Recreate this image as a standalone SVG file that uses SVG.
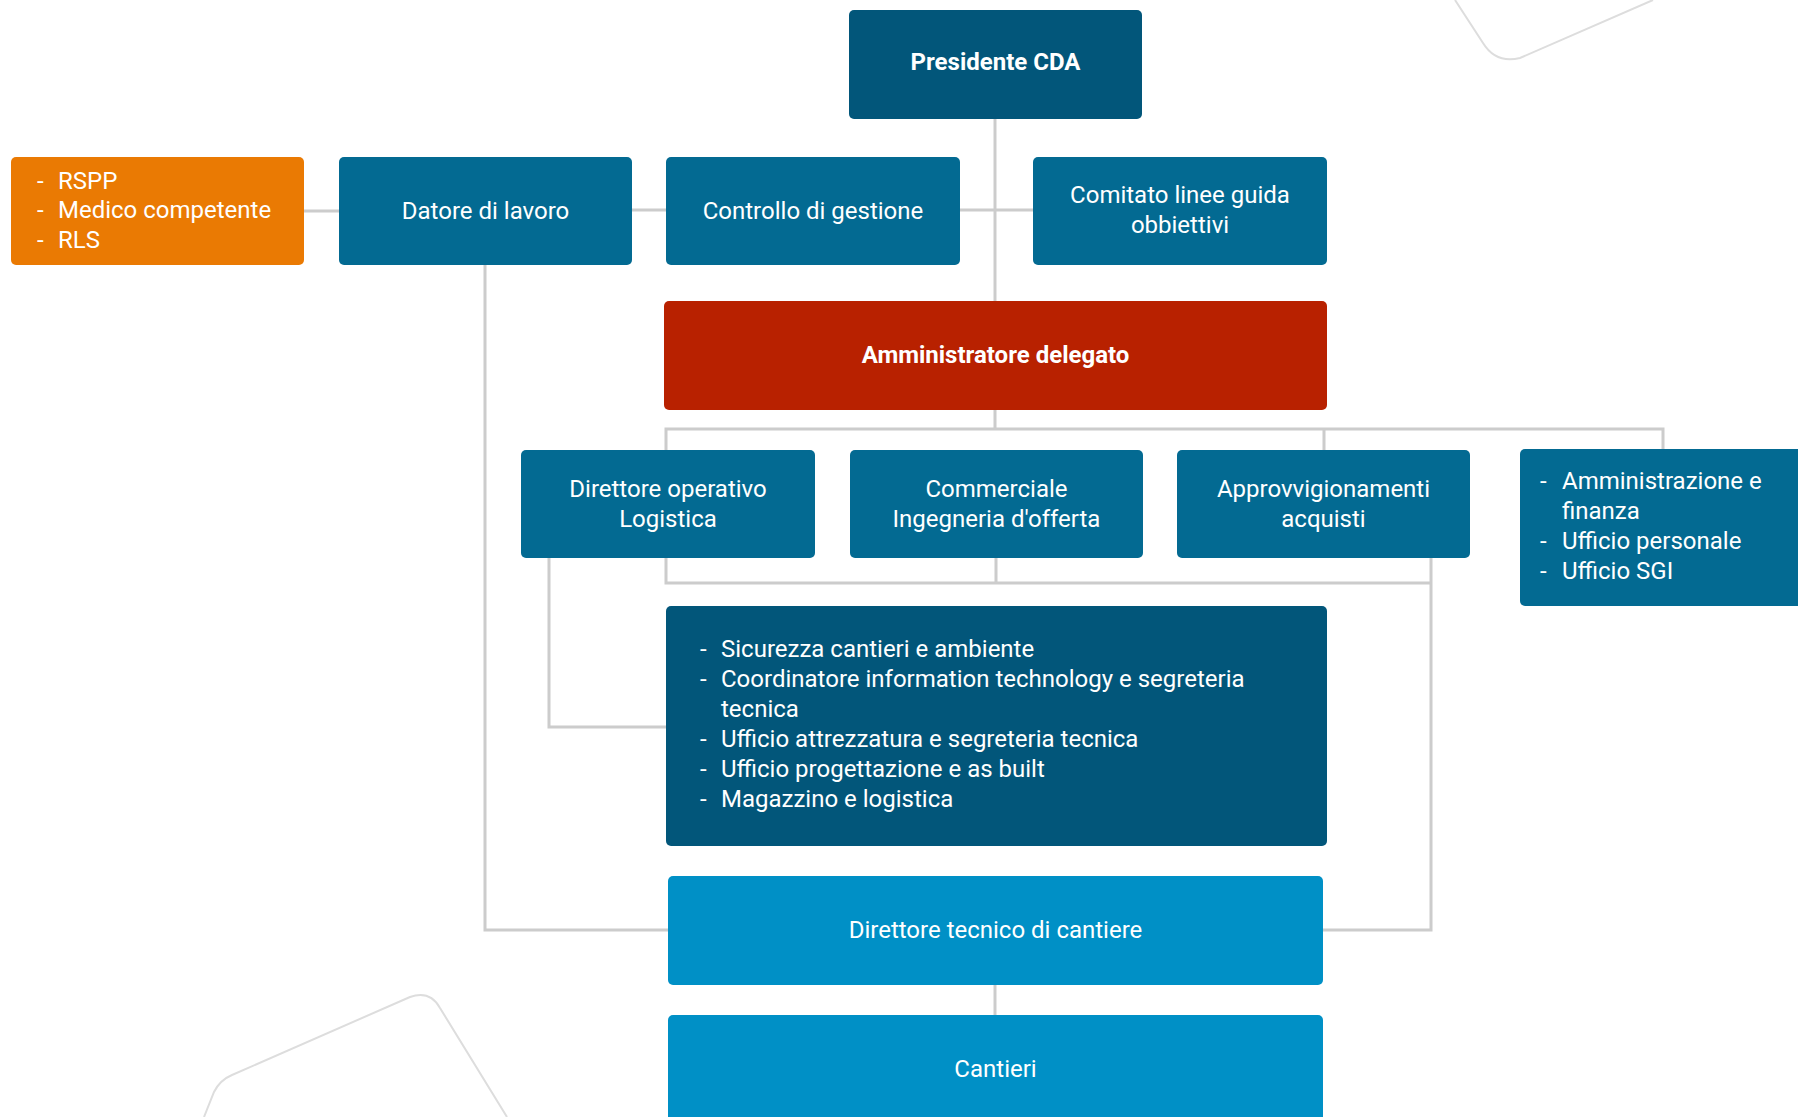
<svg xmlns="http://www.w3.org/2000/svg" width="1798" height="1117" viewBox="0 0 1798 1117">
<style>
text{font-family:Roboto,"Liberation Sans",sans-serif;font-size:24px;fill:#fff}
.c{text-anchor:middle}
.b{font-weight:bold}
.conn{stroke:#cccccc;stroke-width:3;fill:none}
.deco{stroke:#dddddd;stroke-width:2;fill:none}
.mid{fill:#036a92}
.dark{fill:#02567a}
.light{fill:#0090c6}
</style>
<rect width="1798" height="1117" fill="#fff"/>
<g id="decoration">
<path class="deco" d="M1455,0 L1483,43 Q1496,64 1520,58 L1653,0"/>
<path class="deco" d="M204,1117 L214,1092 Q220,1080 232,1075 L410,997 Q430,990 440,1008 L507,1117"/>
</g>
<g id="connectors">
<path class="conn" d="M304,211 H339 M632,210 H666 M960,210 H1033"/>
<path class="conn" d="M995,119 V301"/>
<path class="conn" d="M485,265 V930 H668"/>
<path class="conn" d="M995,410 V429 M666,450 V429 H1663 V449 M1324,429 V450"/>
<path class="conn" d="M666,558 V583 H1431 M996,558 V583 M1431,558 V930 H1323"/>
<path class="conn" d="M549,558 V727 H666"/>
<path class="conn" d="M995,985 V1015"/>
</g>
<g id="presidente">
<rect class="dark" x="849" y="10" width="293" height="109" rx="5"/>
<text class="c b" x="995.5" y="70">Presidente CDA</text>
</g>
<g id="sicurezza-lavoro">
<rect x="11" y="157" width="293" height="108" rx="5" fill="#ea7a03"/>
<text x="37" y="189">-</text><text x="58" y="189">RSPP</text>
<text x="37" y="218">-</text><text x="58" y="218">Medico competente</text>
<text x="37" y="248">-</text><text x="58" y="248">RLS</text>
</g>
<g id="datore">
<rect class="mid" x="339" y="157" width="293" height="108" rx="5"/>
<text class="c" x="485.5" y="219">Datore di lavoro</text>
</g>
<g id="controllo">
<rect class="mid" x="666" y="157" width="294" height="108" rx="5"/>
<text class="c" x="813" y="219">Controllo di gestione</text>
</g>
<g id="comitato">
<rect class="mid" x="1033" y="157" width="294" height="108" rx="5"/>
<text class="c" x="1180" y="203">Comitato linee guida</text>
<text class="c" x="1180" y="233">obbiettivi</text>
</g>
<g id="amministratore">
<rect x="664" y="301" width="663" height="109" rx="5" fill="#b82100"/>
<text class="c b" x="995.5" y="363">Amministratore delegato</text>
</g>
<g id="direttore-operativo">
<rect class="mid" x="521" y="450" width="294" height="108" rx="5"/>
<text class="c" x="668" y="497">Direttore operativo</text>
<text class="c" x="668" y="527">Logistica</text>
</g>
<g id="commerciale">
<rect class="mid" x="850" y="450" width="293" height="108" rx="5"/>
<text class="c" x="996.5" y="497">Commerciale</text>
<text class="c" x="996.5" y="527">Ingegneria d'offerta</text>
</g>
<g id="approvvigionamenti">
<rect class="mid" x="1177" y="450" width="293" height="108" rx="5"/>
<text class="c" x="1323.5" y="497">Approvvigionamenti</text>
<text class="c" x="1323.5" y="527">acquisti</text>
</g>
<g id="amministrazione">
<rect class="mid" x="1520" y="449" width="290" height="157" rx="5"/>
<text x="1540" y="489">-</text><text x="1562" y="489">Amministrazione e</text>
<text x="1562" y="519">finanza</text>
<text x="1540" y="549">-</text><text x="1562" y="549">Ufficio personale</text>
<text x="1540" y="579">-</text><text x="1562" y="579">Ufficio SGI</text>
</g>
<g id="uffici-tecnici">
<rect class="dark" x="666" y="606" width="661" height="240" rx="5"/>
<text x="700" y="657">-</text><text x="721" y="657">Sicurezza cantieri e ambiente</text>
<text x="700" y="687">-</text><text x="721" y="687">Coordinatore information technology e segreteria</text>
<text x="721" y="717">tecnica</text>
<text x="700" y="747">-</text><text x="721" y="747">Ufficio attrezzatura e segreteria tecnica</text>
<text x="700" y="777">-</text><text x="721" y="777">Ufficio progettazione e as built</text>
<text x="700" y="807">-</text><text x="721" y="807">Magazzino e logistica</text>
</g>
<g id="direttore-tecnico">
<rect class="light" x="668" y="876" width="655" height="109" rx="5"/>
<text class="c" x="995.5" y="938">Direttore tecnico di cantiere</text>
</g>
<g id="cantieri">
<rect class="light" x="668" y="1015" width="655" height="120" rx="5"/>
<text class="c" x="995.5" y="1077">Cantieri</text>
</g>
</svg>
